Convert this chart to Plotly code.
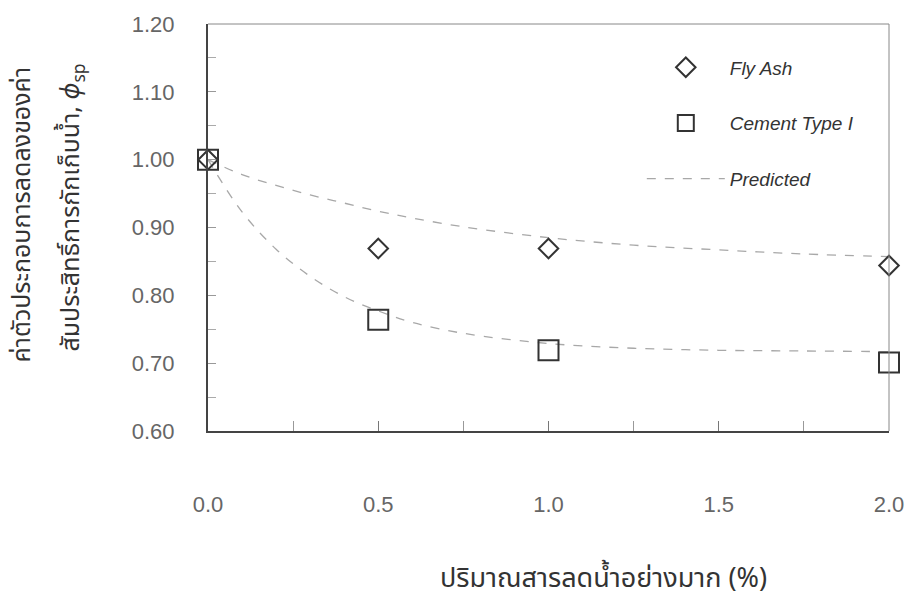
import plotly.graph_objects as go

# Measured data
dosage = [0.0, 0.5, 1.0, 2.0]
fly_ash = [1.00, 0.869, 0.869, 0.844]
cement = [1.00, 0.764, 0.719, 0.701]

# Predicted curves
pred_x = [0.0, 0.1, 0.2, 0.3, 0.4, 0.5, 0.6, 0.75, 1.0, 1.25, 1.5, 1.75, 2.0]
pred_fly = [1.00, 0.978, 0.962, 0.948, 0.936, 0.924, 0.914, 0.901, 0.885, 0.874, 0.867, 0.861, 0.857]
pred_cem = [1.00, 0.923, 0.868, 0.828, 0.798, 0.777, 0.760, 0.744, 0.729, 0.722, 0.719, 0.718, 0.717]

x_ticks = [0.0, 0.5, 1.0, 1.5, 2.0]
y_ticks = [0.60, 0.70, 0.80, 0.90, 1.00, 1.10, 1.20]

y_title_1 = "ค่าตัวประกอบการลดลงของค่า"
y_title_2 = "สัมประสิทธิ์การกักเก็บน้ำ, <i>ϕ</i><sub>sp</sub>"
x_title = "ปริมาณสารลดน้ำอย่างมาก (%)"

FONT = "Liberation Sans, Arial, sans-serif"
THAI = "Noto Sans Thai, Loma, Garuda, Norasi, Noto Sans, sans-serif"

fig = go.Figure()
fig.add_trace(go.Scatter(
    x=pred_x, y=pred_fly, mode="lines", line=dict(color="#a8a8a8", width=1.3, dash="dash", shape="spline"),
    name="Predicted", legendgroup="c", legendrank=3, showlegend=False, hoverinfo="skip"))
fig.add_trace(go.Scatter(
    x=pred_x, y=pred_cem, mode="lines", line=dict(color="#a8a8a8", width=1.3, dash="dash", shape="spline"),
    name="<i>Predicted</i>", legendgroup="c", legendrank=3, showlegend=True, hoverinfo="skip"))
fig.add_trace(go.Scatter(
    x=dosage, y=cement, mode="markers", name="<i>Cement Type I</i>", legendgroup="b", legendrank=2,
    marker=dict(symbol="square-open", size=20, color="#333333", line=dict(width=2, color="#333333")),
    cliponaxis=False))
fig.add_trace(go.Scatter(
    x=dosage, y=fly_ash, mode="markers", name="<i>Fly Ash</i>", legendgroup="a", legendrank=1,
    marker=dict(symbol="diamond-open", size=15, color="#333333", line=dict(width=2, color="#333333")),
    cliponaxis=False))

fig.update_layout(
    width=916, height=603,
    margin=dict(l=208, r=23, t=19, b=172),
    paper_bgcolor="white", plot_bgcolor="white",
    showlegend=True,
    legend=dict(x=0.637, y=0.94, xanchor="left", yanchor="top", itemwidth=78,
                traceorder="grouped", tracegroupgap=28, bgcolor="rgba(0,0,0,0)",
                font=dict(family=FONT, size=19, color="#333333")),
    xaxis=dict(range=[0, 2], tickvals=x_ticks, ticktext=[f"{v:.1f}" for v in x_ticks],
               ticks="inside", ticklen=10, tickcolor="#777", tickwidth=1,
               minor=dict(dtick=0.25, ticks="inside", ticklen=10, tickcolor="#999"),
               showline=True, linecolor="#444", linewidth=2, showgrid=False, zeroline=False,
               ticklabelstandoff=53,
               tickfont=dict(family=FONT, size=22, color="#666666")),
    yaxis=dict(range=[0.6, 1.2], tickvals=y_ticks, ticktext=[f"{v:.2f}" for v in y_ticks],
               ticks="inside", ticklen=8, tickcolor="#999", tickwidth=1,
               minor=dict(dtick=0.05, ticks="inside", ticklen=8, tickcolor="#aaa"),
               showline=True, linecolor="#444", linewidth=2, showgrid=False, zeroline=False,
               ticklabelstandoff=27,
               tickfont=dict(family=FONT, size=22, color="#666666")),
    annotations=[
        dict(text=y_title_1, xref="paper", yref="paper", x=0, y=0.532, xshift=-186,
             xanchor="center", yanchor="middle", textangle=-90, showarrow=False,
             font=dict(family=THAI, size=25, color="#333333")),
        dict(text=y_title_2, xref="paper", yref="paper", x=0, y=0.549, xshift=-136,
             xanchor="center", yanchor="middle", textangle=-90, showarrow=False,
             font=dict(family=THAI, size=25, color="#333333")),
        dict(text=x_title, xref="paper", yref="paper", x=0.5, y=-0.3617, xshift=55,
             xanchor="center", yanchor="middle", showarrow=False,
             font=dict(family=THAI, size=27, color="#333333")),
    ],
    shapes=[
        dict(type="line", xref="paper", yref="paper", x0=0, x1=1, y0=1, y1=1, line=dict(color="#888", width=1)),
        dict(type="line", xref="paper", yref="paper", x0=1, x1=1, y0=0, y1=1, line=dict(color="#888", width=1)),
    ],
)

fig.write_html(
    "out.html",
    config={"displayModeBar": False},
    post_script="document.body.style.margin='0px';document.body.style.overflow='hidden';"
                "document.documentElement.style.overflow='hidden';",
)
